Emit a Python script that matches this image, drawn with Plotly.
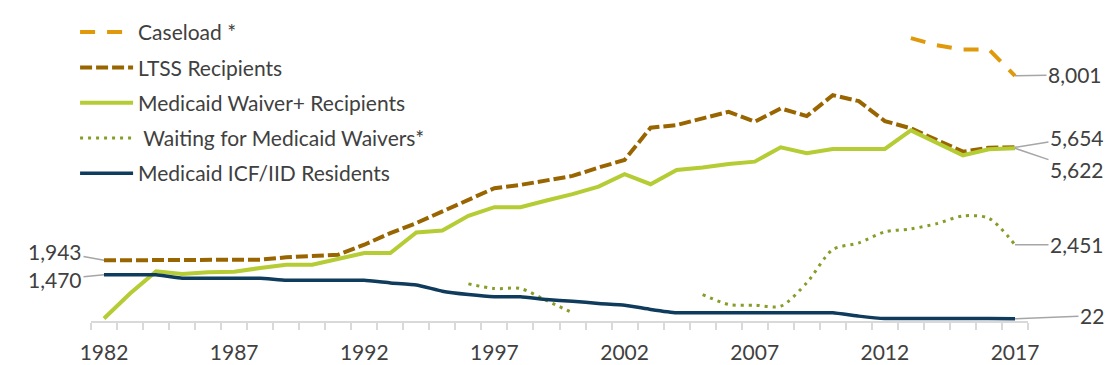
import plotly.graph_objects as go

years = list(range(1982, 2018))

caseload = [None] * 31 + [9240, 9005, 8865, 8865, 8001]

ltss = [1943, 1943, 1943, 1965, 1965, 1965, 1965, 2040, 2095, 2128,
        2455, 2838, 3166, 3548, 3929, 4312, 4420, 4584, 4715, 4988,
        5239, 6297, 6385, 6605, 6821, 6494, 6932, 6680, 7368, 7171,
        6516, 6277, 5894, 5511, 5642, 5654]

waiver = [30, 850, 1580, 1495, 1550, 1570, 1690, 1800, 1800, 1990,
          2183, 2183, 2860, 2925, 3405, 3690, 3690, 3907, 4115, 4365,
          4771, 4443, 4912, 4988, 5108, 5184, 5655, 5459, 5599, 5599,
          5599, 6210, 5786, 5393, 5590, 5622]

waiting = [None] * 14 + [1170, 1015, 1015, 623, 220,
                         None, None, None, None,
                         820, 492, 470, 437, 1204, 2296, 2515,
                         2876, 2974, 3149, 3400, 3323, 2451]

icf = [1470, 1470, 1470, 1355, 1355, 1355, 1355, 1290, 1290, 1290,
       1290, 1200, 1135, 930, 820, 745, 745, 655, 600, 525,
       470, 330, 220, 220, 220, 220, 220, 220, 220, 110,
       30, 30, 30, 30, 30, 22]

tick_years = [1982, 1987, 1992, 1997, 2002, 2007, 2012, 2017]
boundaries = [y - 0.5 for y in range(1982, 2019)]

names = ["Caseload *", "LTSS Recipients", "Medicaid Waiver+ Recipients",
         " Waiting for Medicaid Waivers*", "Medicaid ICF/IID Residents"]

C_CASE = "#E0990A"
C_LTSS = "#996500"
C_WAIV = "#B5CC35"
C_WAIT = "#849E28"
C_ICF = "#0F3B5C"
TXT = "#404040"
FONT = "Lato"

fig = go.Figure()
fig.add_trace(go.Scatter(x=years, y=caseload, mode="lines", name=names[0], legendgroup="a",
                         line=dict(color=C_CASE, width=4, dash="15px,12px")))
fig.add_trace(go.Scatter(x=years, y=ltss, mode="lines", name=names[1], legendgroup="b",
                         line=dict(color=C_LTSS, width=4, dash="12px,4px")))
fig.add_trace(go.Scatter(x=years, y=waiver, mode="lines", name=names[2], legendgroup="c",
                         line=dict(color=C_WAIV, width=4)))
fig.add_trace(go.Scatter(x=years, y=waiting, mode="lines", name=names[3], legendgroup="d",
                         connectgaps=False,
                         line=dict(color=C_WAIT, width=3, dash="3px,5px", shape="spline", smoothing=0.8)))
fig.add_trace(go.Scatter(x=years, y=icf, mode="lines", name=names[4], legendgroup="e",
                         line=dict(color=C_ICF, width=3.5, shape="spline", smoothing=0.35)))

# data labels with leader lines
labels = [
    (2017, caseload[-1], "8,001", 60, -1),
    (2017, ltss[-1], "5,654", 62, -10),
    (2017, waiver[-1], "5,622", 62, 21),
    (2017, waiting[-1], "2,451", 62, 0),
    (2017, icf[-1], "22", 77, -3),
    (1982, ltss[0], "1,943", -49, -9),
    (1982, icf[0], "1,470", -49, 5),
]
for x, y, t, ax, ay in labels:
    fig.add_annotation(x=x, y=y, text=t, showarrow=True, ax=ax, ay=ay,
                       arrowhead=0, arrowwidth=1.5, arrowcolor="#A6A6A6",
                       font=dict(family=FONT, size=21, color=TXT))

fig.update_layout(
    width=1112, height=365,
    margin=dict(l=91, r=84, t=15, b=44, autoexpand=False),
    paper_bgcolor="white", plot_bgcolor="white",
    font=dict(family=FONT, size=21, color=TXT),
    showlegend=True,
    legend=dict(x=-0.017, y=1.01, xanchor="left", yanchor="top",
                bgcolor="rgba(0,0,0,0)", itemwidth=53,
                tracegroupgap=5, traceorder="grouped",
                font=dict(family=FONT, size=21, color=TXT)),
)
fig.update_xaxes(range=[1981.5, 2017.5], tickmode="array", tickvals=tick_years,
                 ticks="", showgrid=False, zeroline=False,
                 showline=True, linecolor="#D9D9D9", linewidth=2,
                 ticklabelstandoff=12,
                 tickfont=dict(family=FONT, size=21, color=TXT),
                 minor=dict(tickmode="array", tickvals=boundaries, ticks="outside",
                            ticklen=7, tickcolor="#D9D9D9", tickwidth=2, showgrid=False))
fig.update_yaxes(range=[-50, 10000], visible=False, showgrid=False, zeroline=False)

fig.write_html("out.html", config={"displayModeBar": False},
               post_script="document.body.style.margin='0px';")
